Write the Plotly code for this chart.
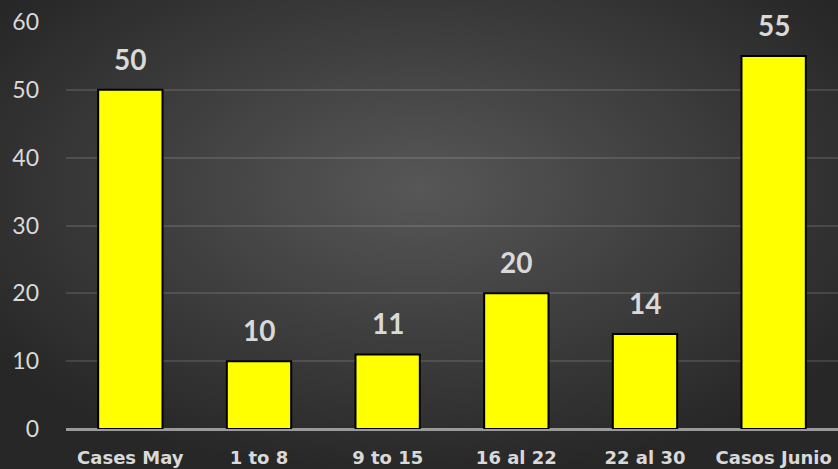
import base64
import plotly.graph_objects as go

categories = ["Cases May", "1 to 8", "9 to 15", "16 al 22", "22 al 30", "Casos Junio"]
cases = [50, 10, 11, 20, 14, 55]
y_ticks = [0, 10, 20, 30, 40, 50, 60]

W, H = 838, 469
ml, mr, mt, mb = 66, 0, 22, 40
pw, ph = W - ml - mr, H - mt - mb

# radial gray gradient for the whole page
svg = (
    f'<svg xmlns="http://www.w3.org/2000/svg" width="{W}" height="{H}" preserveAspectRatio="none">'
    '<defs><radialGradient id="g" cx="0.5" cy="0.4" r="0.62" gradientUnits="objectBoundingBox">'
    '<stop offset="0" stop-color="#575757"/><stop offset="1" stop-color="#272727"/>'
    '</radialGradient></defs>'
    f'<rect width="{W}" height="{H}" fill="url(#g)"/></svg>'
)
bg_src = "data:image/svg+xml;base64," + base64.b64encode(svg.encode()).decode()

num_font = "Lato, 'Open Sans', sans-serif"
cat_font = "'DejaVu Sans', sans-serif"
txt = "#d9d9d9"

fig = go.Figure()
fig.add_trace(go.Bar(
    x=categories, y=cases,
    width=0.5,
    marker=dict(color="#ffff00", line=dict(color="#000000", width=2)),
    hoverinfo="x+y",
))

for c, v in zip(categories, cases):
    fig.add_annotation(x=c, y=v, text=f"<b>{v}</b>", showarrow=False,
                       yshift=31, font=dict(size=28, color=txt, family=num_font))

fig.add_layout_image(dict(
    source=bg_src, xref="paper", yref="paper",
    x=-ml / pw, y=1 + mt / ph, sizex=W / pw, sizey=H / ph,
    xanchor="left", yanchor="top", sizing="stretch", layer="below",
))

fig.update_layout(
    width=W, height=H,
    margin=dict(l=ml, r=mr, t=mt, b=mb),
    paper_bgcolor="#333333",
    plot_bgcolor="rgba(0,0,0,0)",
    showlegend=False,
    bargap=0.5,
    font=dict(family=num_font, color=txt),
    xaxis=dict(
        showgrid=False, showline=False, zeroline=False,
        tickfont=dict(size=18, color=txt, family=cat_font),
        tickprefix="<b>", ticksuffix="</b>",
        ticks="", ticklabelstandoff=16,
    ),
    yaxis=dict(
        range=[0, 60], tickvals=y_ticks,
        showgrid=True, gridcolor="rgba(255,255,255,0.12)", gridwidth=1.5,
        zeroline=True, zerolinecolor="#9a9a9a", zerolinewidth=2.5,
        tickfont=dict(size=23, color=txt, family=num_font),
        tickprefix="<b>", ticksuffix="</b>",
        ticklabelstandoff=26,
        fixedrange=True,
    ),
)

fig.write_html("out.html", config={"displayModeBar": False},
               post_script="document.body.style.margin='0';")
